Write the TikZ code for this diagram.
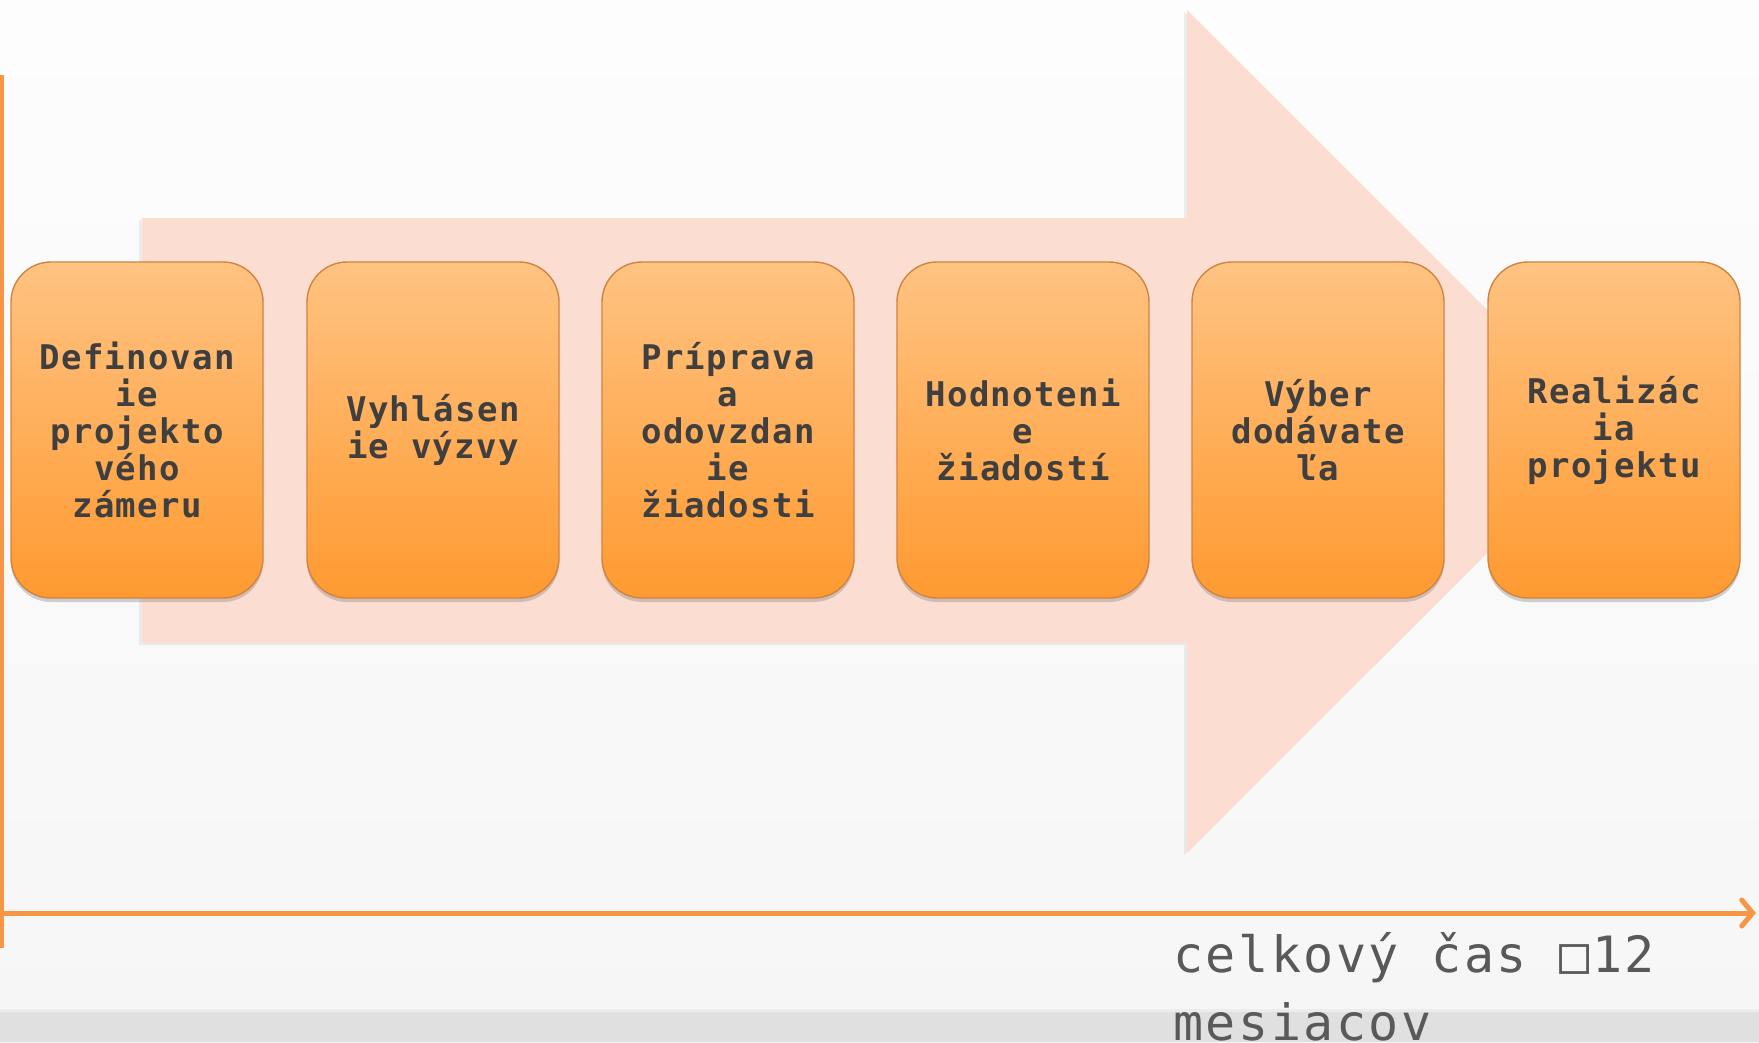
\documentclass[tikz,border=0pt]{standalone}
\usepackage{fontspec}
\usetikzlibrary{arrows.meta,shadows,calc}
\newfontfamily\boxfont[LetterSpace=4]{DejaVu Sans Mono Bold}
\newfontfamily\axfont[LetterSpace=5]{DejaVu Sans Mono}
\definecolor{bgtop}{HTML}{FDFDFD}
\definecolor{bgbot}{HTML}{F6F6F6}
\definecolor{band}{HTML}{E0E0E0}
\definecolor{arrowfill}{HTML}{FCDDD1}
\definecolor{boxtop}{HTML}{FFC382}
\definecolor{boxbot}{HTML}{FF9A31}
\definecolor{boxedge}{HTML}{D0843F}
\definecolor{axorange}{HTML}{F99645}
\definecolor{txtdark}{HTML}{3F3F3F}
\definecolor{txtgrey}{HTML}{595959}
\tikzset{
  stagebox/.style={rounded corners=40pt, minimum width=252pt, minimum height=336pt,
    top color=boxtop, bottom color=boxbot, draw=boxedge, line width=1.4pt,
    drop shadow={opacity=0.35, shadow xshift=0pt, shadow yshift=-4pt},
    align=center, text=txtdark, inner sep=0pt,
    font={\boxfont\fontsize{34}{37}\selectfont}},
  axisline/.style={draw=axorange, line width=5pt,
    drop shadow={opacity=0.25, shadow xshift=0pt, shadow yshift=-4pt}},
  axlabel/.style={anchor=base west, align=left, text=txtgrey, inner sep=0pt,
    font={\axfont\fontsize{50}{68}\selectfont}}
}
\begin{document}
\begin{tikzpicture}[x=1pt,y=-1pt]
\useasboundingbox (0,0) rectangle (1759,1042);
% background
\shade[top color=bgtop, bottom color=bgbot] (0,0) rectangle (1759,1042);
\fill[band!60!white] (0,1009) rectangle (1759,1012);
\fill[band] (0,1012) rectangle (1759,1042);
% big arrow
\fill[arrowfill, drop shadow={opacity=0.12, shadow xshift=-3pt, shadow yshift=-2pt}]
  (142,218) -- (1187,218) -- (1187,10) -- (1609,431.5) -- (1187,853) -- (1187,643) -- (142,643) -- cycle;
% axes
\coordinate (vtop) at (1.8,75);
\coordinate (vbot) at (1.8,948);
\coordinate (hstart) at (0,913);
\coordinate (hend) at (1756,913);
\draw[draw=axorange, line width=3.6pt] (vtop) -- (vbot);
\draw[axisline, line cap=round, -{Straight Barb[length=11pt,width=26pt,line cap=round]}] (hstart) -- (hend);
% stage boxes
\node[stagebox] (b1) at (137,430) {Definovan\\ie\\projekto\\vého\\zámeru};
\node[stagebox] (b2) at (433,430) {Vyhlásen\\ie výzvy};
\node[stagebox] (b3) at (728,430) {Príprava\\a\\odovzdan\\ie\\žiadosti};
\node[stagebox] (b4) at (1023,430) {Hodnoteni\\e\\žiadostí};
\node[stagebox] (b5) at (1318,430) {Výber\\dodávate\\ľa};
\node[stagebox] (b6) at (1614,430) {Realizác\\ia\\projektu};
% axis label
\node[axlabel] (lab) at (1173,1040) {celkový čas □12\\mesiacov};
\end{tikzpicture}
\end{document}
